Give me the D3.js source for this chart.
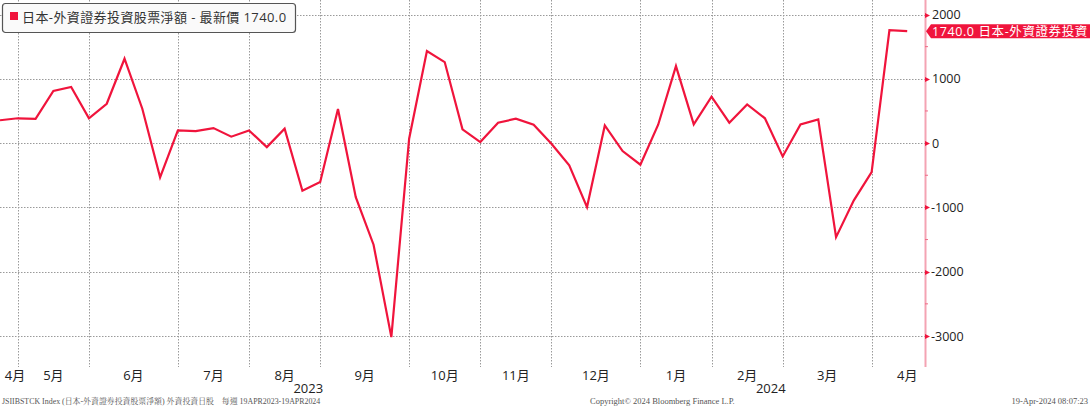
<!DOCTYPE html>
<html><head><meta charset="utf-8">
<script src="https://cdn.jsdelivr.net/npm/d3@7"></script>
<style>
body{margin:0;background:#fff;}
svg{display:block;}
</style></head>
<body>
<script>
// ---- data ----
const dates = ["2023-04-28","2023-05-05","2023-05-12","2023-05-19","2023-05-26","2023-06-02","2023-06-09","2023-06-16","2023-06-23","2023-06-30",
"2023-07-07","2023-07-14","2023-07-21","2023-07-28","2023-08-04","2023-08-11","2023-08-18","2023-08-25","2023-09-01","2023-09-08",
"2023-09-15","2023-09-22","2023-09-29","2023-10-06","2023-10-13","2023-10-20","2023-10-27","2023-11-03","2023-11-10","2023-11-17",
"2023-11-24","2023-12-01","2023-12-08","2023-12-15","2023-12-22","2023-12-29","2024-01-05","2024-01-12","2024-01-19","2024-01-26",
"2024-02-02","2024-02-09","2024-02-16","2024-02-23","2024-03-01","2024-03-08","2024-03-15","2024-03-22","2024-03-29","2024-04-05",
"2024-04-12","2024-04-19"];
const values = [355,386,376,812,874,386,612,1312,535,-533,
197,187,233,100,197,-62,224,-740,-606,529,
-840,-1580,-3017,68,1431,1260,213,16,317,379,
286,-10,-347,-995,275,-124,-336,286,1198,291,
722,317,602,386,-207,291,369,-1462,-891,-451,
1755,1740];
const yTicks = [2000,1000,0,-1000,-2000,-3000];
const yMinorTicks = [1500,500,-500,-1500,-2500];
const monthLabels = ["1月","2月","3月","4月","5月","6月","7月","8月","9月","10月","11月","12月"];
const legendText = "日本-外資證券投資股票淨額 - 最新價 1740.0";
const tagText = "1740.0 日本-外資證券投資";
const footerLeft = "JSIIBSTCK Index (日本-外資證券投資股票淨額) 外資投資日股　每週 19APR2023-19APR2024";
const footerMid = "Copyright© 2024 Bloomberg Finance L.P.";
const footerRight = "19-Apr-2024 08:07:23";

// ---- layout ----
const W = 1090, H = 407;
const plotL = 0, plotR = 925, plotT = 0, plotB = 367;
const red = "#f0143c";
const sans = "'Open Sans','Noto Sans CJK TC',sans-serif";
const serif = "'Liberation Serif','Noto Serif CJK TC','Noto Sans CJK TC',serif";

const parse = d3.timeParse("%Y-%m-%d");
const pts = dates.map((d,i)=>({i, date: parse(d), v: values[i]}));

const x = d3.scaleLinear().domain([0, 52]).range([plotL, plotR]);
const y = d3.scaleLinear().domain([-3000, 2000]).range([336, 14.5]);

const svg = d3.select("body").append("svg").attr("width", W).attr("height", H);

// first data point of each month
const firsts = [];
pts.forEach((p,k)=>{ if(k===0 || p.date.getMonth()!==pts[k-1].date.getMonth()) firsts.push({i:p.i, date:p.date}); });
const grids = firsts.filter(f=>f.i>0);

// horizontal grid
svg.append("g").selectAll("line").data(yTicks).join("line")
  .attr("x1", plotL).attr("x2", plotR)
  .attr("y1", d=>Math.round(y(d))+0.5).attr("y2", d=>Math.round(y(d))+0.5)
  .attr("stroke", "#9a9a9a").attr("stroke-width", 1).attr("stroke-dasharray", "1.5,1.5");

// vertical grid
svg.append("g").selectAll("line").data(grids).join("line")
  .attr("x1", d=>Math.round(x(d.i))+0.5).attr("x2", d=>Math.round(x(d.i))+0.5)
  .attr("y1", plotT).attr("y2", plotB)
  .attr("stroke", "#9a9a9a").attr("stroke-width", 1).attr("stroke-dasharray", "1.5,1.5");

// line
svg.append("path").datum(pts)
  .attr("fill","none").attr("stroke", red).attr("stroke-width", 2.2)
  .attr("stroke-linejoin","miter")
  .attr("d", d3.line().x(d=>x(d.i)).y(d=>y(d.v)));

// right axis
const ax = svg.append("g");
ax.append("line").attr("x1", plotR+0.5).attr("x2", plotR+0.5).attr("y1", 0).attr("y2", plotB)
  .attr("stroke", "#f4a3b3").attr("stroke-width", 2);
ax.selectAll("line.minor").data(yMinorTicks).join("line").attr("class","minor")
  .attr("x1", plotR).attr("x2", plotR+3).attr("y1", d=>y(d)).attr("y2", d=>y(d))
  .attr("stroke", "#f06a86").attr("stroke-width", 1);
ax.selectAll("path.tk").data(yTicks).join("path").attr("class","tk")
  .attr("d", d=>{const yy=Math.round(y(d))+0.5; return `M${plotR},${yy-2.5}L${plotR+5},${yy}L${plotR},${yy+2.5}Z`;})
  .attr("fill", red);
ax.selectAll("text").data(yTicks).join("text")
  .attr("x", d=> d<0 ? plotR+6 : plotR+7).attr("y", d=>y(d)).attr("dy","0.36em")
  .attr("font-family", sans).attr("font-size", 12.5).attr("fill", "#222")
  .text(d=> d<0 ? "-" + Math.abs(d) : String(d));

// x month labels
const bounds = firsts.map(f=>f.i);
const starts = [firsts[0].i - 3].concat(bounds.slice(1));
const ends = bounds.slice(1).concat([bounds[bounds.length-1] + 4]);
const mlab = firsts.map((f,k)=>({cx: x((starts[k]+ends[k])/2), t: monthLabels[f.date.getMonth()]}));
svg.append("g").selectAll("text").data(mlab).join("text")
  .attr("x", d=>Math.max(d.cx, 15)).attr("y", 380)
  .attr("text-anchor","middle")
  .attr("font-family", sans).attr("font-size", 13).attr("fill", "#222")
  .text(d=>d.t);

// year labels
const years = d3.groups(pts, p=>p.date.getFullYear()).map(([yr, arr])=>({yr, cx: x((arr[0].i + arr[arr.length-1].i)/2)}));
svg.append("g").selectAll("text").data(years).join("text")
  .attr("x", d=>d.cx - 3).attr("y", 393).attr("text-anchor","middle")
  .attr("font-family", sans).attr("font-size", 13).attr("fill", "#222")
  .text(d=>d.yr);

// legend
const lg = svg.append("g");
lg.append("rect").attr("x", 2.5).attr("y", 3.5).attr("width", 293).attr("height", 29).attr("rx", 3)
  .attr("fill", "#fafafa").attr("stroke", "#555").attr("stroke-width", 1.2);
lg.append("rect").attr("x", 10).attr("y", 12).attr("width", 8).attr("height", 8).attr("fill", red);
lg.append("text").attr("x", 22).attr("y", 17).attr("dy","0.36em")
  .attr("font-family", sans).attr("font-size", 13).attr("letter-spacing", 0.4).attr("fill", "#333").text(legendText);

// last value tag
const last = pts[pts.length-1];
const ty = y(last.v);
svg.append("path")
  .attr("d", `M${plotR+1},${ty}L${plotR+6},${ty-7}L${W},${ty-7}L${W},${ty+7}L${plotR+6},${ty+7}Z`)
  .attr("fill", red);
svg.append("text").attr("x", plotR+7).attr("y", ty).attr("dy","0.36em")
  .attr("font-family", sans).attr("font-size", 12.5).attr("letter-spacing", 0.6).attr("fill", "#fff").text(tagText);

// footer
const ft = svg.append("g").attr("font-family", serif).attr("fill", "#555");
ft.append("text").attr("x", 2).attr("y", 404).attr("font-size", 7.9).text(footerLeft);
ft.append("text").attr("x", 590).attr("y", 404).attr("font-size", 8.5).text(footerMid);
ft.append("text").attr("x", 1088).attr("y", 404).attr("font-size", 8.5).attr("text-anchor","end").text(footerRight);
</script>
</body></html>
